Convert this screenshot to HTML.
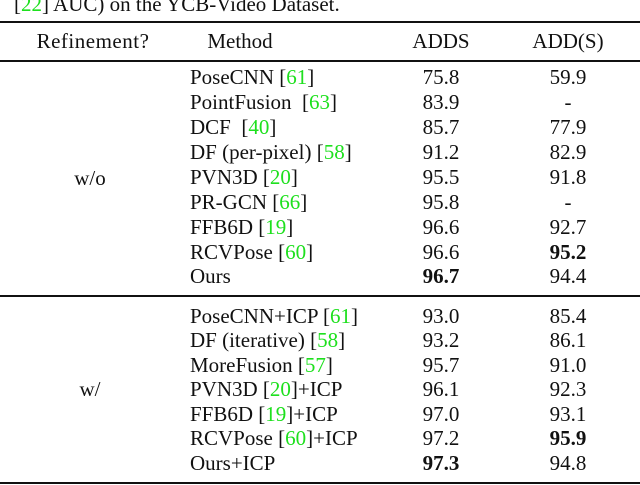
<!DOCTYPE html>
<html><head><style>
body{margin:0;width:640px;height:485px;background:#fff;overflow:hidden;position:relative;font-family:"Liberation Serif",serif;font-size:21px;color:#111}
.t{position:absolute;white-space:nowrap;line-height:20px}
.c{transform:translateX(-50%)}
.g{color:#1ee01e}
.r{position:absolute;left:0;width:640px;background:#111}
b{font-weight:bold}
</style></head><body>
<div class="t" style="left:14px;top:-6px">[<span class="g">22</span>] AUC) on the YCB-Video Dataset.</div>
<div class="r" style="top:21px;height:2px"></div>
<div class="t c" style="left:93px;top:31px;letter-spacing:0.5px">Refinement?</div>
<div class="t c" style="left:240px;top:31px">Method</div>
<div class="t c" style="left:441px;top:31px">ADDS</div>
<div class="t c" style="left:568px;top:31px">ADD(S)</div>
<div class="r" style="top:60px;height:2px"></div>

<div class="t c" style="left:90px;top:168px">w/o</div>
<div class="t" style="left:190px;top:67px">PoseCNN [<span class="g">61</span>]</div><div class="t c" style="left:441px;top:67px">75.8</div><div class="t c" style="left:568px;top:67px">59.9</div>
<div class="t" style="left:190px;top:92px">PointFusion &nbsp;[<span class="g">63</span>]</div><div class="t c" style="left:441px;top:92px">83.9</div><div class="t c" style="left:568px;top:92px">-</div>
<div class="t" style="left:190px;top:117px">DCF &nbsp;[<span class="g">40</span>]</div><div class="t c" style="left:441px;top:117px">85.7</div><div class="t c" style="left:568px;top:117px">77.9</div>
<div class="t" style="left:190px;top:142px">DF (per-pixel) [<span class="g">58</span>]</div><div class="t c" style="left:441px;top:142px">91.2</div><div class="t c" style="left:568px;top:142px">82.9</div>
<div class="t" style="left:190px;top:167px">PVN3D [<span class="g">20</span>]</div><div class="t c" style="left:441px;top:167px">95.5</div><div class="t c" style="left:568px;top:167px">91.8</div>
<div class="t" style="left:190px;top:192px">PR-GCN [<span class="g">66</span>]</div><div class="t c" style="left:441px;top:192px">95.8</div><div class="t c" style="left:568px;top:192px">-</div>
<div class="t" style="left:190px;top:217px">FFB6D [<span class="g">19</span>]</div><div class="t c" style="left:441px;top:217px">96.6</div><div class="t c" style="left:568px;top:217px">92.7</div>
<div class="t" style="left:190px;top:242px">RCVPose [<span class="g">60</span>]</div><div class="t c" style="left:441px;top:242px">96.6</div><div class="t c" style="left:568px;top:242px"><b>95.2</b></div>
<div class="t" style="left:190px;top:266px">Ours</div><div class="t c" style="left:441px;top:266px"><b>96.7</b></div><div class="t c" style="left:568px;top:266px">94.4</div>
<div class="r" style="top:295px;height:2px"></div>

<div class="t c" style="left:90px;top:379px">w/</div>
<div class="t" style="left:190px;top:306px">PoseCNN+ICP [<span class="g">61</span>]</div><div class="t c" style="left:441px;top:306px">93.0</div><div class="t c" style="left:568px;top:306px">85.4</div>
<div class="t" style="left:190px;top:330px">DF (iterative) [<span class="g">58</span>]</div><div class="t c" style="left:441px;top:330px">93.2</div><div class="t c" style="left:568px;top:330px">86.1</div>
<div class="t" style="left:190px;top:355px">MoreFusion [<span class="g">57</span>]</div><div class="t c" style="left:441px;top:355px">95.7</div><div class="t c" style="left:568px;top:355px">91.0</div>
<div class="t" style="left:190px;top:379px">PVN3D [<span class="g">20</span>]+ICP</div><div class="t c" style="left:441px;top:379px">96.1</div><div class="t c" style="left:568px;top:379px">92.3</div>
<div class="t" style="left:190px;top:404px">FFB6D [<span class="g">19</span>]+ICP</div><div class="t c" style="left:441px;top:404px">97.0</div><div class="t c" style="left:568px;top:404px">93.1</div>
<div class="t" style="left:190px;top:428px">RCVPose [<span class="g">60</span>]+ICP</div><div class="t c" style="left:441px;top:428px">97.2</div><div class="t c" style="left:568px;top:428px"><b>95.9</b></div>
<div class="t" style="left:190px;top:453px">Ours+ICP</div><div class="t c" style="left:441px;top:453px"><b>97.3</b></div><div class="t c" style="left:568px;top:453px">94.8</div>
<div class="r" style="top:482px;height:2px"></div>
</body></html>
